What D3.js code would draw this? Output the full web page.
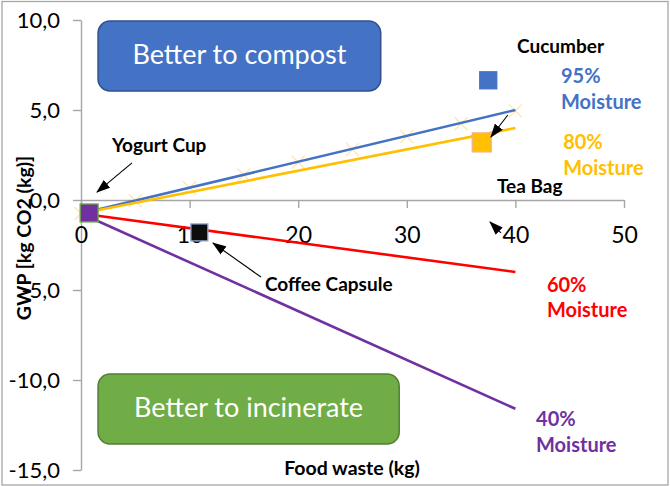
<!DOCTYPE html>
<meta charset="utf-8">
<style>
body { margin: 0; background: #fff; }
text { font-family: Lato, "Open Sans", sans-serif; }
.axis path, .axis line { stroke: #a6a6a6; stroke-width: 1.4px; }
.axis text { fill: #000; }
.series { fill: none; stroke-width: 2.6px; }
.lbl { font-weight: bold; font-size: 19px; }
.slbl { font-weight: bold; font-size: 20px; }
</style>
<body>
<svg id="chart" width="670" height="486"></svg>
<script src="https://d3js.org/d3.v7.min.js"></script>
<script>

// ---- data ----
var xEnds = [0, 40];
var moist95 = [-0.75, 5.0];
var moist80 = [-0.75, 4.0];
var moist60 = [-0.75, -4.0];
var moist40 = [-0.75, -11.6];

// pale cross markers along the 95% line
var crossX = [0, 5, 10, 15, 20, 25, 30, 35, 40];
var crossY = [-0.75, -0.04, 0.68, 1.39, 2.1, 2.81, 3.53, 4.24, 4.95];

// single items
var items = ["Yogurt Cup", "Coffee Capsule", "Cucumber", "Tea Bag"];
var itemX = [0.75, 10.9, 37.5, 36.9];
var itemY = [-0.72, -1.8, 6.65, 3.2];

var xTicks = [0, 10, 20, 30, 40, 50];
var yTicks = [-15, -10, -5, 0, 5, 10];

var seriesNames = ["95%", "80%", "60%", "40%"];

// ---- layout ----
var svg = d3.select("#chart");

var x = d3.scaleLinear().domain([0, 50]).range([81, 624]);
var y = d3.scaleLinear().domain([-15, 10]).range([470, 20]);

// outer frame
svg.append("rect")
    .attr("x", 2).attr("y", 1.5)
    .attr("width", 666).attr("height", 483.5)
    .attr("fill", "none")
    .attr("stroke", "#a6a6a6")
    .attr("stroke-width", 1.3);

var fmt = function(d) { return d3.format(".1f")(d).replace(".", ",").replace("\u2212", "-"); };

// Y axis
var gy = svg.append("g")
    .attr("class", "axis")
    .attr("transform", "translate(" + x(0) + ",0)")
    .call(d3.axisLeft(y).tickValues(yTicks).tickSize(8).tickSizeOuter(0).tickPadding(13).tickFormat(fmt));
gy.selectAll("text").style("font-size", "22px");

// X axis (crosses at y = 0)
var gx = svg.append("g")
    .attr("class", "axis")
    .attr("transform", "translate(0," + y(0) + ")")
    .call(d3.axisBottom(x).tickValues(xTicks).tickSize(8).tickSizeOuter(0).tickPadding(19));
gx.selectAll("text").style("font-size", "23px");

// axis titles
svg.append("text")
    .attr("transform", "translate(31," + 238 + ") rotate(-90)")
    .attr("text-anchor", "middle")
    .style("font-weight", "bold")
    .style("font-size", "19.5px")
    .text("GWP [kg CO2 (kg)]");

svg.append("text")
    .attr("x", 352).attr("y", 475)
    .attr("text-anchor", "middle")
    .style("font-weight", "bold")
    .style("font-size", "19.5px")
    .text("Food waste (kg)");

// boxes
function box(x0, x1, y0, y1, fill, stroke, label) {
  svg.append("rect")
      .attr("x", x(x0)).attr("y", y(y0))
      .attr("width", x(x1) - x(x0)).attr("height", y(y1) - y(y0))
      .attr("rx", 12).attr("ry", 12)
      .attr("fill", fill)
      .attr("stroke", stroke)
      .attr("stroke-width", 1.5);
  svg.append("text")
      .attr("x", (x(x0) + x(x1)) / 2)
      .attr("y", (y(y0) + y(y1)) / 2 + 8)
      .attr("text-anchor", "middle")
      .attr("fill", "#fff")
      .style("font-size", "27px")
      .text(label);
}
box(1.57, 27.6, 9.94, 6.06, "#4472c4", "#2f528f", "Better to compost");
box(1.57, 29.3, -9.67, -13.56, "#70ad47", "#507e32", "Better to incinerate");

// lines
var line = d3.line()
    .x(function(d, i) { return x(xEnds[i]); })
    .y(function(d) { return y(d); });

var colors = ["#4472c4", "#ffc000", "#ff0000", "#7030a0"];
var allSeries = [moist95, moist80, moist60, moist40];

// cross markers drawn first so the lines sit on top
svg.selectAll(".cross")
  .data(crossX)
  .enter()
  .append("path")
    .attr("class", "cross")
    .attr("d", function(d, i) {
      var cx = x(d), cy = y(crossY[i]), r = 6.5;
      return "M" + (cx - r) + "," + (cy - r) + "L" + (cx + r) + "," + (cy + r) +
             "M" + (cx - r) + "," + (cy + r) + "L" + (cx + r) + "," + (cy - r);
    })
    .attr("stroke", "#ffe6b0")
    .attr("stroke-width", 1.3)
    .attr("fill", "none");

allSeries.forEach(function(s, i) {
  svg.append("path")
      .datum(s)
      .attr("class", "series")
      .attr("stroke", colors[i])
      .attr("d", line);
});

// item squares
var sqFill = ["#7030a0", "#0d0d0d", "#4472c4", "#ffc000"];
var sqStroke = ["#70ad47", "#8faadc", "#4472c4", "#f4b183"];
var sqSize = [18, 17, 17, 19];
svg.selectAll(".item")
  .data(items)
  .enter()
  .append("rect")
    .attr("class", "item")
    .attr("x", function(d, i) { return x(itemX[i]) - sqSize[i] / 2; })
    .attr("y", function(d, i) { return y(itemY[i]) - sqSize[i] / 2; })
    .attr("width", function(d, i) { return sqSize[i]; })
    .attr("height", function(d, i) { return sqSize[i]; })
    .attr("fill", function(d, i) { return sqFill[i]; })
    .attr("stroke", function(d, i) { return sqStroke[i]; })
    .attr("stroke-width", 1.3);

// item labels
var itemLblX = [2.85, 16.94, 40.15, 38.3];
var itemLblY = [2.67, -5.06, 8.17, 0.39];
svg.selectAll(".itemlbl")
  .data(items)
  .enter()
  .append("text")
    .attr("class", "lbl")
    .attr("x", function(d, i) { return x(itemLblX[i]); })
    .attr("y", function(d, i) { return y(itemLblY[i]); })
    .text(function(d) { return d; });

// arrows
svg.append("defs").append("marker")
    .attr("id", "head")
    .attr("markerUnits", "userSpaceOnUse")
    .attr("viewBox", "0 0 14 10")
    .attr("refX", 13).attr("refY", 5)
    .attr("markerWidth", 14).attr("markerHeight", 10)
    .attr("orient", "auto")
  .append("path")
    .attr("d", "M0,0L14,5L0,10Z")
    .attr("fill", "#000");

var arrFrom = [[4.70, 2.06], [16.57, -4.28], [39.3, 4.72], [38.67, -1.83]];
var arrTo = [[1.47, 0.44], [12.15, -2.39], [37.75, 3.5], [37.66, -1.22]];
arrFrom.forEach(function(f, i) {
  svg.append("line")
      .attr("x1", x(f[0])).attr("y1", y(f[1]))
      .attr("x2", x(arrTo[i][0])).attr("y2", y(arrTo[i][1]))
      .attr("stroke", "#000")
      .attr("stroke-width", 1.1)
      .attr("marker-end", "url(#head)");
});

// series labels
var serLblX = [44.2, 44.4, 42.9, 41.9];
var serLblY = [6.5, 2.83, -5.11, -12.56];
seriesNames.forEach(function(n, i) {
  var t = svg.append("text")
      .attr("class", "slbl")
      .attr("x", x(serLblX[i]))
      .attr("y", y(serLblY[i]))
      .attr("fill", colors[i]);
  t.append("tspan").text(n);
  t.append("tspan").attr("x", x(serLblX[i])).attr("dy", 25.5).text("Moisture");
});

</script>
</body>
